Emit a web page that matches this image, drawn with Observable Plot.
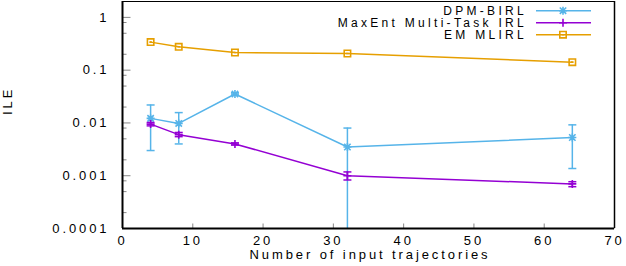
<!DOCTYPE html>
<html><head><meta charset="utf-8">
<script src="https://cdn.jsdelivr.net/npm/d3@7"></script>
<script src="https://cdn.jsdelivr.net/npm/@observablehq/plot@0.6"></script>
<style>
body{margin:0;background:#fff}
#chart{position:relative;width:626px;height:266px}
</style>
</head><body><div id="chart"></div>
<script>
// ---- data ----
const xValues = [4, 8, 16, 32, 64];
const seriesNames = ["DPM-BIRL", "MaxEnt Multi-Task IRL", "EM MLIRL"];
const dpmMean = [0.0122, 0.0098, 0.0353, 0.0035, 0.0053];
const dpmLow  = [0.0030, 0.0040, 0.0334, 0.00001, 0.00137];
const dpmHigh = [0.0219, 0.0157, 0.0374, 0.0080, 0.0092];
const maxentMean = [0.0095, 0.0060, 0.0040, 0.00100, 0.00070];
const maxentLow  = [0.0088, 0.0055, 0.0038, 0.00083, 0.00062];
const maxentHigh = [0.0102, 0.0066, 0.0042, 0.00118, 0.00077];
const emMean = [0.34, 0.277, 0.216, 0.207, 0.142];
const xTicks = [0, 10, 20, 30, 40, 50, 60, 70];
const yMajorTicks = [0.0001, 0.001, 0.01, 0.1, 1];
const yMinorTicks = [0.0002, 0.0005, 0.0008, 0.002, 0.005, 0.008, 0.02, 0.05, 0.08, 0.2, 0.5, 0.8];
const xDomain = [0, 70];
const yDomain = [0.0001, 2];
const colors = ["#56b4e9", "#9400d3", "#e69f00"];
const xLabel = "Number of input trajectories";
const yLabel = "ILE";

// ---- build table ----
const means = [dpmMean, maxentMean, emMean];
const lows = [dpmLow, maxentLow, null];
const highs = [dpmHigh, maxentHigh, null];
const rows = [];
seriesNames.forEach((s, i) => xValues.forEach((x, j) => rows.push({
  series: s, idx: i, x, y: means[i][j],
  low: lows[i] ? lows[i][j] : null, high: highs[i] ? highs[i][j] : null
})));
const errRows = rows.filter(d => d.low != null);

// ---- custom symbols ----
const rad = size => Math.sqrt(size / Math.PI);
const hLine = {draw(c, size){const r = rad(size); c.moveTo(-r,0); c.lineTo(r,0);}};
const tickRight = len => ({draw(c){c.moveTo(0,0); c.lineTo(len,0);}});
const tickUp = {draw(c){c.moveTo(0,0); c.lineTo(0,-5);}};
const star = {draw(c, size){const r = rad(size), d = r*0.8;
  c.moveTo(-r,0); c.lineTo(r,0); c.moveTo(0,-r); c.lineTo(0,r);
  c.moveTo(-d,-d); c.lineTo(d,d); c.moveTo(-d,d); c.lineTo(d,-d);}};
const plus = {draw(c, size){const r = rad(size);
  c.moveTo(-r,0); c.lineTo(r,0); c.moveTo(0,-r); c.lineTo(0,r);}};
const square = {draw(c, size){const r = rad(size)*0.8; c.rect(-r,-r,2*r,2*r);
  c.moveTo(-r*0.4,0); c.lineTo(r*0.4,0);}};
const symbols = [star, plus, square];

const marks = [];
seriesNames.forEach((s, i) => {
  const data = rows.filter(d => d.idx === i);
  const err = errRows.filter(d => d.idx === i);
  marks.push(Plot.line(data, {x: "x", y: "y", stroke: colors[i], strokeWidth: 1.5}));
  if (err.length) {
    marks.push(Plot.ruleX(err, {x: "x", y1: "low", y2: "high", stroke: colors[i], strokeWidth: 1.5, clip: true}));
    marks.push(Plot.dot(err, {x: "x", y: "low", symbol: hLine, r: 4, stroke: colors[i], fill: "none", strokeWidth: 1.5, clip: true}));
    marks.push(Plot.dot(err, {x: "x", y: "high", symbol: hLine, r: 4, stroke: colors[i], fill: "none", strokeWidth: 1.5, clip: true}));
  }
  marks.push(Plot.dot(data, {x: "x", y: "y", symbol: symbols[i], r: 4, stroke: colors[i], fill: "none", strokeWidth: 1.6}));
});

const plot = Plot.plot({
  width: 626, height: 266,
  marginLeft: 122, marginRight: 12, marginTop: 1, marginBottom: 38,
  style: {fontFamily: "'Liberation Sans', Arial, sans-serif", fontSize: "13px", letterSpacing: "2.9px", background: "#fff", color: "#000"},
  x: {domain: xDomain, ticks: xTicks, tickSize: 0, tickPadding: 7, label: null, tickFormat: d => String(d)},
  y: {type: "log", domain: yDomain, ticks: yMajorTicks, tickSize: 0, tickPadding: 13, label: null, tickFormat: d => String(d)},
  marks: [
    Plot.dot(yMajorTicks, {y: d => d, frameAnchor: "left", symbol: tickRight(8), stroke: "#888", strokeWidth: 1}),
    Plot.dot(yMinorTicks, {y: d => d, frameAnchor: "left", symbol: tickRight(4), stroke: "#888", strokeWidth: 1}),
    Plot.dot(xTicks, {x: d => d, frameAnchor: "bottom", symbol: tickUp, stroke: "#888", strokeWidth: 1}),
    ...marks,
    Plot.ruleY([yDomain[1]], {stroke: "#000", strokeWidth: 1.2}),
    Plot.ruleX([xDomain[1]], {stroke: "#000", strokeWidth: 1.5}),
    Plot.ruleX([xDomain[0]], {stroke: "#000", strokeWidth: 2}),
    Plot.ruleY([yDomain[0]], {stroke: "#000", strokeWidth: 2}),
    Plot.text([xLabel], {frameAnchor: "bottom", dy: 30, text: d => d, dx: 1.5}),
    Plot.text([yLabel], {frameAnchor: "left", dx: -115, rotate: -90, text: d => d, letterSpacing: "1px"})
  ]
});
document.getElementById("chart").appendChild(plot);

// ---- legend inside the plot area (top right) ----
const svg = d3.select(plot);
const lg = svg.append("g").style("font-size", "12px").style("letter-spacing", "3.3px");
seriesNames.forEach((s, i) => {
  const y = 10.7 + 12 * i;
  lg.append("text").attr("x", 527).attr("y", y).attr("dy", "0.35em")
    .attr("text-anchor", "end").attr("fill", "#000").text(s);
  lg.append("line").attr("x1", 536).attr("x2", 591).attr("y1", y).attr("y2", y)
    .attr("stroke", colors[i]).attr("stroke-width", 1.5);
  lg.append("path").attr("transform", `translate(563,${y})`)
    .attr("d", d3.symbol(symbols[i], Math.PI * 16)())
    .attr("stroke", colors[i]).attr("fill", "none").attr("stroke-width", 1.6);
});
</script>
</body></html>
